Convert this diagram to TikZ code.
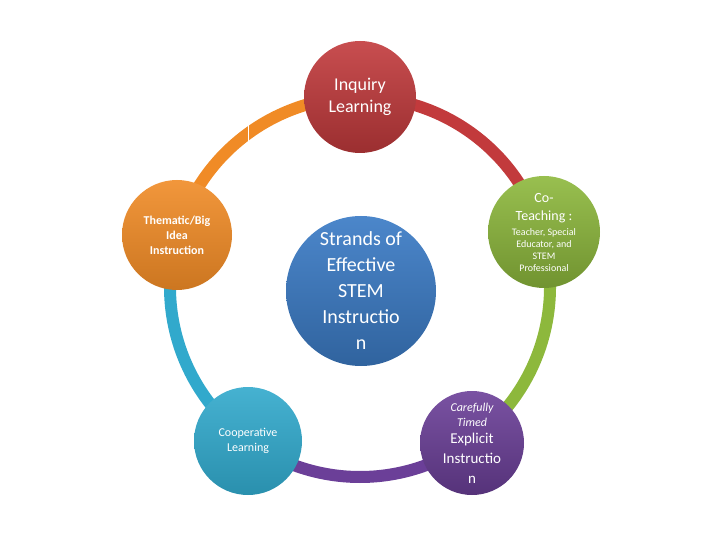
\documentclass[tikz,border=0pt]{standalone}
\usepackage{fontspec}
\setmainfont{Carlito}
\begin{document}
\begin{tikzpicture}[x=1pt,y=-1pt,
  ball/.style={circle,minimum size=#1,inner sep=0pt,text=white,align=center},
  ring/.style={line width=12pt}]
\definecolor{cred}{HTML}{C23A3C}
\definecolor{cgreen}{HTML}{8DB83C}
\definecolor{cpurple}{HTML}{6B3F98}
\definecolor{ccyan}{HTML}{31A9CC}
\definecolor{corange}{HTML}{F08B26}
\definecolor{cblue}{HTML}{3C7CC6}
\useasboundingbox (0,0) rectangle (720,540);
\coordinate (c) at (360,287);
\draw[ring,cred] (c) ++(90:-190) arc[start angle=-90,end angle=-18,radius=190];
\draw[ring,cgreen] (c) ++(-18:190) arc[start angle=-18,end angle=54,radius=190];
\draw[ring,cpurple] (c) ++(54:190) arc[start angle=54,end angle=126,radius=190];
\draw[ring,ccyan] (c) ++(126:190) arc[start angle=126,end angle=198,radius=190];
\draw[ring,corange] (c) ++(198:190) arc[start angle=198,end angle=270,radius=190];
\draw[white,line width=1pt] (248,116) -- (248,142);
\node[ball=150pt,top color=cblue!92!white,bottom color=cblue!80!black,font=\fontsize{20}{26}\selectfont] (s) at (361,291) {Strands of\\Effective\\STEM\\Instructio\\n};
\node[ball=112pt,top color=cred!90!white,bottom color=cred!80!black,font=\fontsize{18}{22}\selectfont] (i) at (360,97) {Inquiry\\Learning};
\node[ball=112pt,top color=cgreen!90!white,bottom color=cgreen!80!black] (t) at (544,232) {\fontsize{14}{17}\selectfont Co-\\[6pt]\fontsize{14}{17}\selectfont Teaching :\\[3pt]\fontsize{10}{12}\selectfont Teacher, Special\\\fontsize{10}{12}\selectfont Educator, and\\\fontsize{10}{12}\selectfont STEM\\\fontsize{10}{12}\selectfont Professional};
\node[ball=104pt,top color=cpurple!90!white,bottom color=cpurple!80!black,font=\fontsize{15}{20}\selectfont] (e) at (472,443) {{\fontsize{12}{15}\selectfont\itshape Carefully}\\[-5pt]{\fontsize{12}{15}\selectfont\itshape Timed}\\[-3pt]Explicit\\Instructio\\n};
\node[ball=108pt,top color=ccyan!90!white,bottom color=ccyan!85!black,font=\fontsize{12}{15}\selectfont] (k) at (248,441) {Cooperative\\Learning};
\node[ball=110pt,top color=corange!90!white,bottom color=corange!85!black,font=\bfseries\fontsize{12}{15}\selectfont] (h) at (177,235) {Thematic/Big\\Idea\\Instruction};
\end{tikzpicture}
\end{document}
